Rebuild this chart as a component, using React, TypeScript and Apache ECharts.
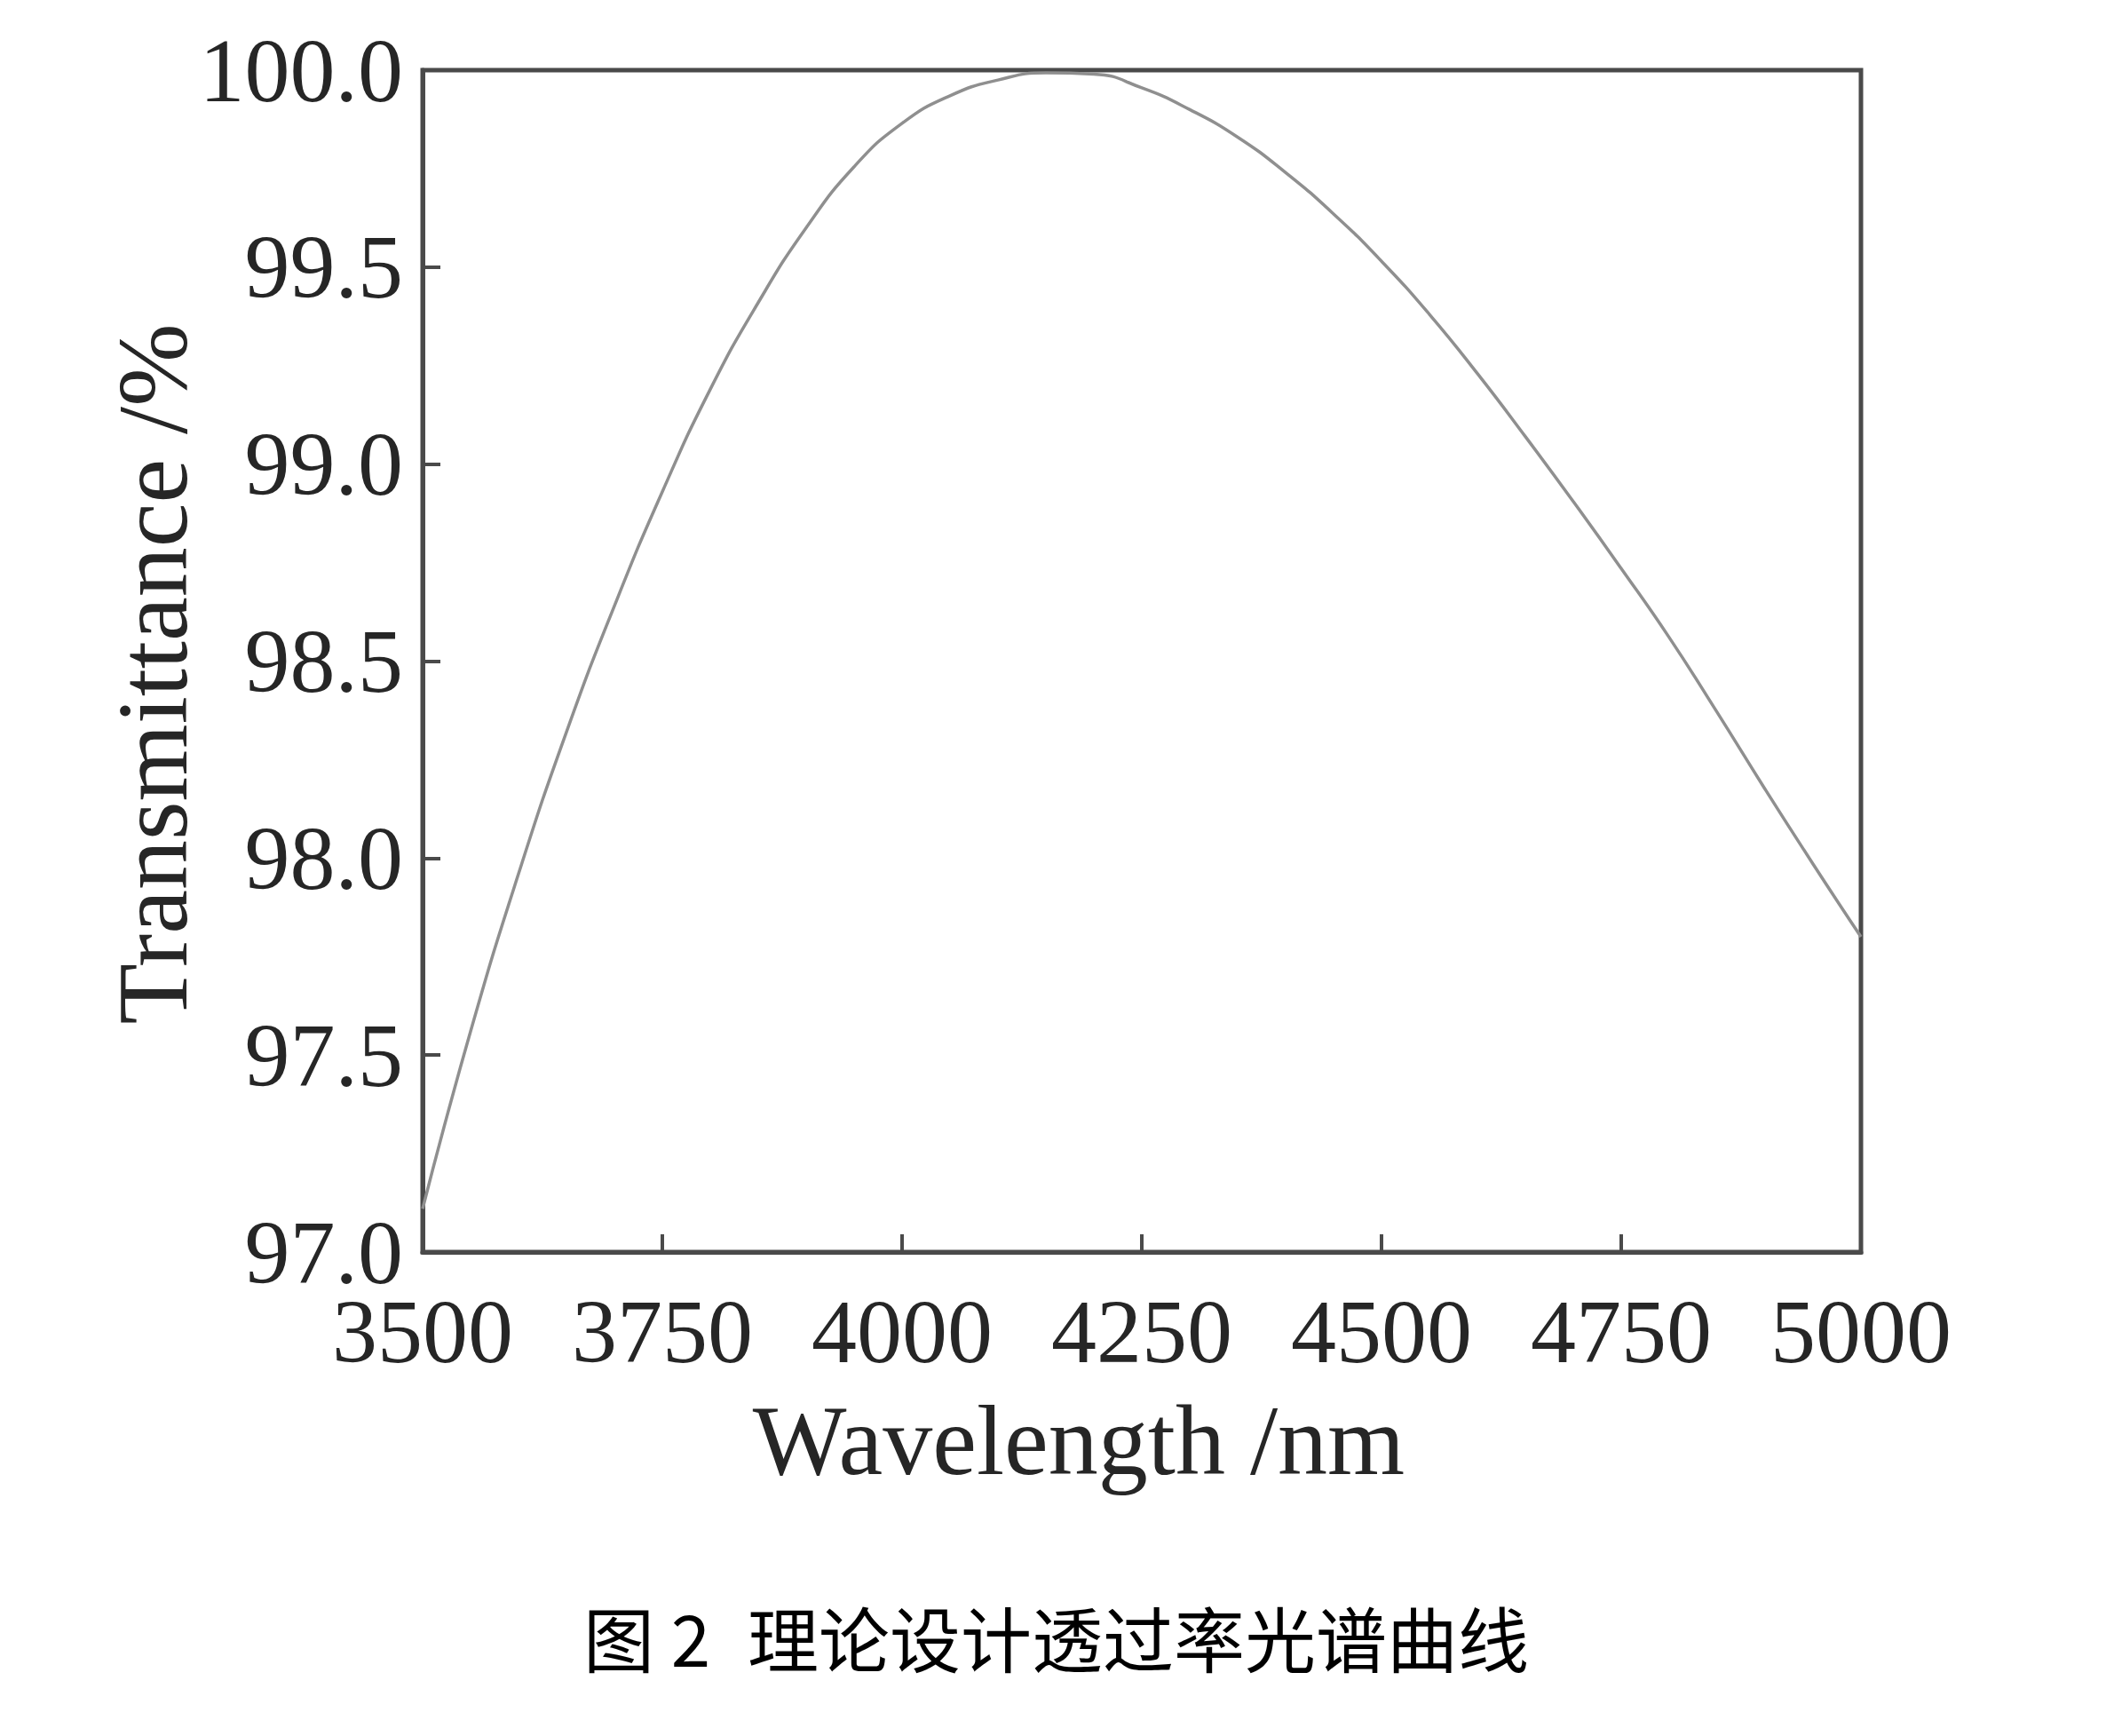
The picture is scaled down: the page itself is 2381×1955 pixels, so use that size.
import React, { useEffect, useRef } from "react";
import * as echarts from "echarts";

const wavelengths = [
  3500, 3550, 3600, 3650, 3700, 3750, 3800, 3850, 3900, 3950, 4000, 4050, 4100,
  4150, 4200, 4250, 4300, 4350, 4400, 4450, 4500, 4550, 4600, 4650, 4700, 4750,
  4800, 4850, 4900, 4950, 5000,
];
const transmittance = [
  97.11, 97.56, 97.96, 98.32, 98.64, 98.93, 99.19, 99.41, 99.6, 99.755, 99.865,
  99.935, 99.975, 99.993, 99.99, 99.955, 99.9, 99.83, 99.74, 99.635, 99.515,
  99.38, 99.23, 99.07, 98.905, 98.735, 98.56, 98.37, 98.175, 97.985, 97.8,
];
const xTitle = "Wavelength /nm";
const yTitle = "Transmittance /%";
const captionFig = "图";
const captionNum = "2";
const captionText = "理论设计透过率光谱曲线";

const SERIF = "'Liberation Serif', 'DejaVu Serif', serif";
const CJK = "'Noto Sans CJK SC', sans-serif";

export default function App() {
  const ref = useRef<HTMLDivElement>(null);
  useEffect(() => {
    document.body.style.margin = "0";
    const chart = echarts.init(ref.current!, null, { renderer: "svg" });
    chart.setOption({
      animation: false,
      backgroundColor: "#ffffff",
      grid: {
        left: 476,
        top: 79,
        right: 285,
        bottom: 545,
        show: true,
        borderColor: "#4a4a4a",
        borderWidth: 5,
        containLabel: false,
      },
      xAxis: {
        type: "value",
        min: 3500,
        max: 5000,
        interval: 250,
        axisLine: { show: true, lineStyle: { color: "#4a4a4a", width: 5 } },
        axisTick: { show: true, inside: true, length: 20, lineStyle: { color: "#4a4a4a", width: 4 } },
        splitLine: { show: false },
        axisLabel: {
          color: "#262626",
          fontFamily: SERIF,
          fontSize: 102,
          margin: 38,
          formatter: (v: number) => String(v),
        },
      },
      yAxis: {
        type: "value",
        min: 97,
        max: 100,
        interval: 0.5,
        axisLine: { show: true, lineStyle: { color: "#4a4a4a", width: 5 } },
        axisTick: { show: true, inside: true, length: 20, lineStyle: { color: "#4a4a4a", width: 4 } },
        splitLine: { show: false },
        axisLabel: {
          color: "#262626",
          fontFamily: SERIF,
          fontSize: 102,
          margin: 22,
          formatter: (v: number) => v.toFixed(1),
        },
      },
      series: [
        {
          type: "line",
          data: wavelengths.map((w, i) => [w, transmittance[i]]),
          smooth: 0.5,
          showSymbol: false,
          clip: true,
          lineStyle: { color: "#8f8f8f", width: 3.5 },
        },
      ],
      graphic: [
        {
          type: "text",
          x: 1215,
          y: 1622,
          style: {
            text: xTitle,
            fontFamily: SERIF,
            fontSize: 112,
            fill: "#262626",
            align: "center",
            verticalAlign: "middle",
          },
        },
        {
          type: "text",
          x: 172,
          y: 759,
          rotation: Math.PI / 2,
          style: {
            text: yTitle,
            fontFamily: SERIF,
            fontSize: 112,
            fill: "#262626",
            align: "center",
            verticalAlign: "middle",
          },
        },
        {
          type: "text",
          x: 697,
          y: 1842,
          style: {
            text: captionFig,
            fontFamily: CJK,
            fontSize: 80,
            fill: "#000000",
            align: "center",
            verticalAlign: "middle",
          },
        },
        {
          type: "text",
          x: 778,
          y: 1842,
          style: {
            text: captionNum,
            fontFamily: CJK,
            fontSize: 80,
            fill: "#000000",
            align: "center",
            verticalAlign: "middle",
          },
        },
        {
          type: "text",
          x: 842,
          y: 1842,
          style: {
            text: captionText,
            fontFamily: CJK,
            fontSize: 80,
            fill: "#000000",
            align: "left",
            verticalAlign: "middle",
          },
        },
      ],
    });
    return () => chart.dispose();
  }, []);
  return <div ref={ref} style={{ width: 2381, height: 1955 }} />;
}
